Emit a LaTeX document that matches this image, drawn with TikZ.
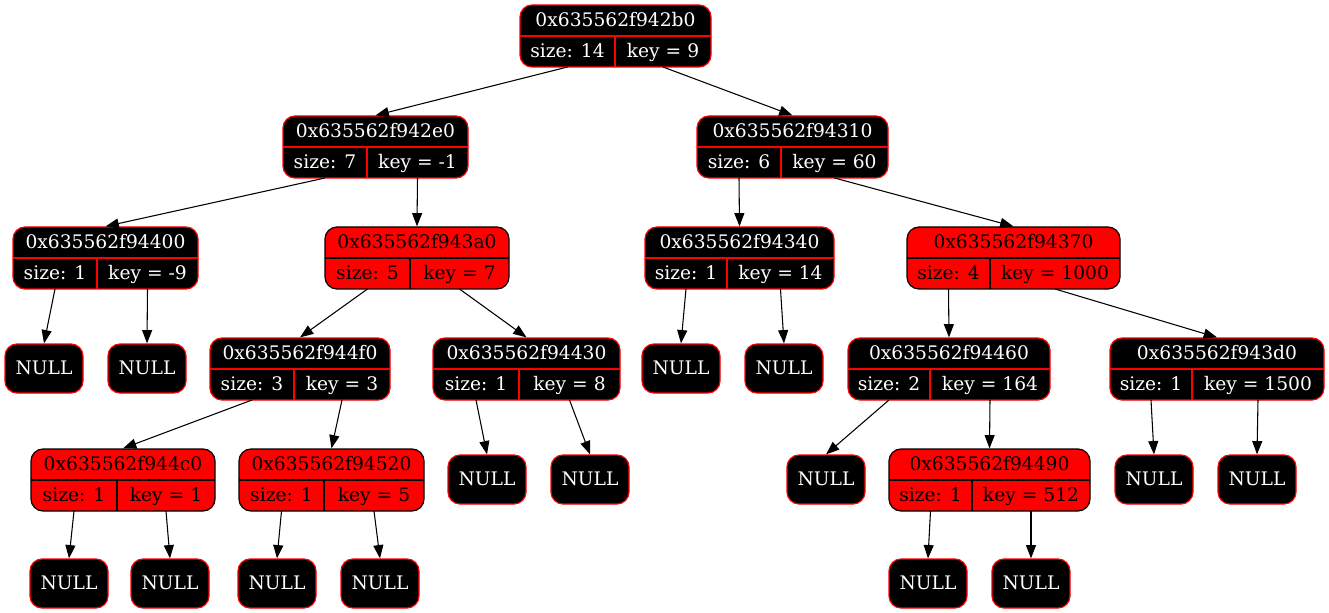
\documentclass[tikz,border=0pt]{standalone}
\usepackage{fontspec}
\setmainfont{DejaVu Serif}
\usetikzlibrary{fit,arrows.meta}
\tikzset{
  blkbox/.style={draw=red, fill=black, rounded corners=9pt, inner sep=0pt, line width=0.9pt},
  rdbox/.style={draw=black, fill=red, rounded corners=9pt, inner sep=0pt, line width=0.9pt},
  blkline/.style={draw=red, line width=0.9pt},
  rdline/.style={draw=black, line width=0.9pt},
  blktext/.style={text=white, anchor=base, inner sep=0pt, font=\fontsize{14pt}{16pt}\selectfont},
  rdtext/.style={text=black, anchor=base, inner sep=0pt, font=\fontsize{14pt}{16pt}\selectfont},
  nullbox/.style={draw=red, fill=black, rounded corners=9pt, inner sep=0pt, line width=0.9pt},
  edge/.style={draw=black, line width=0.8pt, -{Triangle[length=10pt, width=7.5pt]}},
}
% #1 name, #2 xl, #3 xr, #4 xd, #5 yt, #6 blk/rd, #7 hex, #8 size, #9 key
\newcommand\recnode[9]{%
  \node[#6box, fit={(#2,#5) (#3,#5+62)}] (#1) {};
  \draw[#6line] (#2,#5+31) -- (#3,#5+31);
  \draw[#6line] (#4,#5+31) -- (#4,#5+62);
  \node[#6text] (#1-hex) at ({(#2+#3)/2},#5+21.5) {#7};
  \node[#6text] (#1-size) at ({(#2+#4)/2},#5+52.5) {#8};
  \node[#6text] (#1-key) at ({(#4+#3)/2},#5+52.5) {#9};
  \coordinate (#1-L) at ({(#2+#4)/2},#5+62);
  \coordinate (#1-R) at ({(#4+#3)/2},#5+62);
}
% #1 name, #2 xl, #3 yt
\newcommand\nullnode[3]{%
  \node[nullbox, fit={(#2,#3) (#2+78,#3+49)}] (#1) {};
  \node[blktext] (#1-t) at ({#2+39},#3+30.5) {NULL};
}
\begin{document}
\begin{tikzpicture}[x=0.75pt, y=-0.75pt]
\useasboundingbox (0,0) rectangle (1329,613);
\recnode{root}{520}{711}{615}{5}{blk}{0x635562f942b0}{size: 14}{key = 9}
\recnode{A}{283}{468}{367}{116}{blk}{0x635562f942e0}{size: 7}{key = -1}
\recnode{B}{697}{888}{781}{116}{blk}{0x635562f94310}{size: 6}{key = 60}
\recnode{C}{13}{198}{97}{227}{blk}{0x635562f94400}{size: 1}{key = -9}
\recnode{D}{325}{509}{410}{227}{rd}{0x635562f943a0}{size: 5}{key = 7}
\recnode{E}{645}{834}{727}{227}{blk}{0x635562f94340}{size: 1}{key = 14}
\recnode{F}{907}{1120}{990}{227}{rd}{0x635562f94370}{size: 4}{key = 1000}
\recnode{G}{210}{390}{294}{338}{blk}{0x635562f944f0}{size: 3}{key = 3}
\recnode{H}{433}{620}{519}{338}{blk}{0x635562f94430}{size: 1}{key = 8}
\recnode{I}{848}{1050}{930}{338}{blk}{0x635562f94460}{size: 2}{key = 164}
\recnode{J}{1110}{1324}{1192}{338}{blk}{0x635562f943d0}{size: 1}{key = 1500}
\recnode{K}{31}{215}{117}{449}{rd}{0x635562f944c0}{size: 1}{key = 1}
\recnode{L}{239}{424}{324}{449}{rd}{0x635562f94520}{size: 1}{key = 5}
\recnode{M}{889}{1090}{972}{449}{rd}{0x635562f94490}{size: 1}{key = 512}
\nullnode{C1}{5}{344}
\nullnode{C2}{108}{344}
\nullnode{E1}{642}{344}
\nullnode{E2}{745}{344}
\nullnode{H1}{448}{455}
\nullnode{H2}{551}{455}
\nullnode{I1}{787}{455}
\nullnode{J1}{1115}{455}
\nullnode{J2}{1218}{455}
\nullnode{K1}{30}{559}
\nullnode{K2}{131}{559}
\nullnode{L1}{238}{559}
\nullnode{L2}{341}{559}
\nullnode{M1}{889}{559}
\nullnode{M2}{992}{559}
\draw[edge] (root-L) -- (A.north);
\draw[edge] (root-R) -- (B.north);
\draw[edge] (A-L) -- (C.north);
\draw[edge] (A-R) -- (D.north);
\draw[edge] (B-L) -- (E.north);
\draw[edge] (B-R) -- (F.north);
\draw[edge] (C-L) -- (C1.north);
\draw[edge] (C-R) -- (C2.north);
\draw[edge] (D-L) -- (G.north);
\draw[edge] (D-R) -- (H.north);
\draw[edge] (E-L) -- (E1.north);
\draw[edge] (E-R) -- (E2.north);
\draw[edge] (F-L) -- (I.north);
\draw[edge] (F-R) -- (J.north);
\draw[edge] (G-L) -- (K.north);
\draw[edge] (G-R) -- (L.north);
\draw[edge] (H-L) -- (H1.north);
\draw[edge] (H-R) -- (H2.north);
\draw[edge] (I-L) -- (I1.north);
\draw[edge] (I-R) -- (M.north);
\draw[edge] (J-L) -- (J1.north);
\draw[edge] (J-R) -- (J2.north);
\draw[edge] (K-L) -- (K1.north);
\draw[edge] (K-R) -- (K2.north);
\draw[edge] (L-L) -- (L1.north);
\draw[edge] (L-R) -- (L2.north);
\draw[edge] (M-L) -- (M1.north);
\draw[edge] (M-R) -- (M2.north);
\end{tikzpicture}
\end{document}
